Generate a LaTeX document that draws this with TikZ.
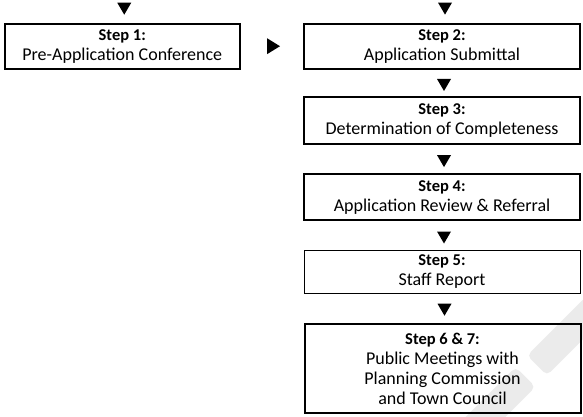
\documentclass[tikz,border=0pt]{standalone}
\usepackage{fontspec}
\setmainfont{Carlito}
\usetikzlibrary{calc}
\newcommand\steplabel[1]{{\fontsize{16.5}{20}\selectfont\bfseries #1}}
\begin{document}
\begin{tikzpicture}[x=1pt,y=-1pt,
  stepbox/.style={draw=black, line width=2pt, inner sep=0pt, align=center,
    minimum width=276pt, font=\fontsize{18}{20}\selectfont},
  thinbox/.style={stepbox, line width=1pt},
  watermark/.style={fill=black!8, rounded corners=5pt},
  downmark/.pic={\fill[black] (-7,-12) -- (7,-12) -- (0,0) -- cycle;}]
\useasboundingbox (0,0) rectangle (583,417);

% faint diagonal watermark strokes
\begin{scope}
  \clip (0,0) rectangle (583,417);
  \path[watermark] (527.1,355.6) -- (546.9,375.4) -- (652.9,269.4) -- (633.1,249.6) -- cycle;
  \path[watermark] (515.6,367.1) -- (535.4,386.9) -- (429.4,492.9) -- (409.6,473.1) -- cycle;
\end{scope}

% process steps
\node[stepbox, minimum width=235.5pt, minimum height=45pt] (s1) at (122.25,46.2)
  {\steplabel{Step 1:}\\Pre-Application Conference};
\node[stepbox, minimum height=45pt] (s2) at (442,46.1)
  {\steplabel{Step 2:}\\Application Submittal};
\node[stepbox, minimum height=46.5pt] (s3) at (442,120.75)
  {\steplabel{Step 3:}\\Determination of Completeness};
\node[stepbox, minimum height=46pt] (s4) at (442,197.1)
  {\steplabel{Step 4:}\\Application Review \& Referral};
\node[thinbox, minimum height=43.5pt] (s5) at (442,271.75)
  {\steplabel{Step 5:}\\Staff Report};
\node[stepbox, minimum height=89.6pt] (s6) at (442.5,368.5)
  {\steplabel{Step 6 \& 7:}\\Public Meetings with\\Planning Commission\\and Town Council};

% arrow markers
\pic at ($(s1.north)+(2,-8)$) {downmark};
\pic at ($(s2.north)+(3,-8)$) {downmark};
\pic at ($(s3.north)+(2,-5.5)$) {downmark};
\pic at ($(s4.north)+(2,-6)$) {downmark};
\pic at ($(s5.north)+(2,-6)$) {downmark};
\pic at ($(s6.north)+(2,-7)$) {downmark};
\fill[black] ($(s1.east)+(26,-8)$) -- ++(0,16) -- ++(13,-8) -- cycle;
\end{tikzpicture}
\end{document}
